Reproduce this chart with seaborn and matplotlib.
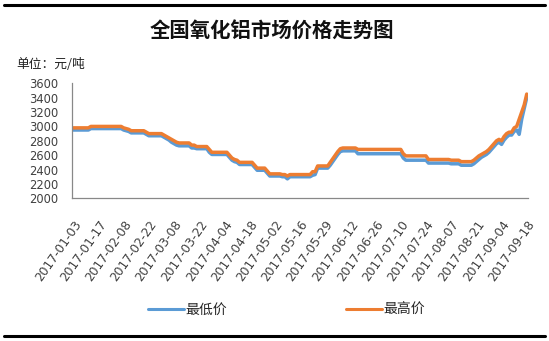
import matplotlib
matplotlib.use("Agg")
import matplotlib.pyplot as plt
import seaborn as sns
import pandas as pd
from matplotlib.lines import Line2D

# ---- data (yuan/ton, one value per trading day) ----
high_price = [
    2980, 2980, 2980, 2980, 2980, 2980, 2980,
    3000, 3000, 3000, 3000, 3000, 3000, 3000, 3000, 3000, 3000, 3000, 3000, 3000,
    2980, 2970, 2960,
    2940, 2940, 2940, 2940, 2940, 2940,
    2920,
    2900, 2900, 2900, 2900, 2900, 2900,
    2880, 2860, 2840,
    2820, 2800, 2780, 2770,
    2770, 2770, 2770, 2770,
    2740, 2740,
    2720, 2720, 2720, 2720, 2720,
    2680,
    2640, 2640, 2640, 2640, 2640, 2640, 2640,
    2600, 2560, 2540, 2530,
    2500, 2500, 2500, 2500, 2500, 2500,
    2460,
    2420, 2420, 2420, 2420,
    2380,
    2340, 2340, 2340, 2340, 2340,
    2330, 2330, 2310, 2330, 2330, 2330, 2330, 2330, 2330, 2330, 2330, 2330,
    2370, 2370,
    2450, 2450, 2450, 2450, 2450,
    2500, 2550, 2600, 2650, 2690,
    2700, 2700, 2700, 2700, 2700, 2700,
    2680, 2680, 2680, 2680, 2680, 2680, 2680, 2680, 2680,
    2680, 2680, 2680, 2680, 2680, 2680, 2680, 2680, 2680,
    2620, 2590,
    2590, 2590, 2590, 2590, 2590, 2590, 2590, 2590,
    2540, 2540, 2540, 2540, 2540, 2540, 2540, 2540, 2540,
    2530, 2530, 2530, 2530,
    2510, 2510, 2510, 2510, 2510,
    2530, 2560, 2590, 2610, 2630, 2650, 2680,
    2720, 2760, 2800, 2820,
    2800, 2860, 2900, 2920,
    2920, 2980, 3000,
    3100, 3200, 3300, 3450,
]

low_price = [
    2950, 2950, 2950, 2950, 2950, 2950, 2950,
    2970, 2970, 2970, 2970, 2970, 2970, 2970, 2970, 2970, 2970, 2970, 2970, 2970,
    2950, 2940, 2930,
    2910, 2910, 2910, 2910, 2910, 2910,
    2890,
    2870, 2870, 2870, 2870, 2870, 2870,
    2850, 2830, 2810,
    2780, 2760, 2740, 2730,
    2730, 2730, 2730, 2730,
    2700, 2700,
    2690, 2690, 2690, 2690, 2690,
    2640,
    2610, 2610, 2610, 2610, 2610, 2610, 2610,
    2570, 2530, 2510, 2500,
    2470, 2470, 2470, 2470, 2470, 2470,
    2430,
    2390, 2390, 2390, 2390,
    2350,
    2310, 2310, 2310, 2310, 2310,
    2300, 2300, 2270, 2300, 2300, 2300, 2300, 2300, 2300, 2300, 2300, 2300,
    2320, 2330,
    2420, 2420, 2420, 2420, 2420,
    2460, 2510, 2560, 2610, 2650,
    2660, 2660, 2660, 2660, 2660, 2660,
    2620, 2620, 2620, 2620, 2620, 2620, 2620, 2620, 2620,
    2620, 2620, 2620, 2620, 2620, 2620, 2620, 2620, 2620,
    2560, 2530,
    2530, 2530, 2530, 2530, 2530, 2530, 2530, 2530,
    2490, 2490, 2490, 2490, 2490, 2490, 2490, 2490, 2490,
    2480, 2480, 2480, 2480,
    2460, 2460, 2460, 2460, 2460,
    2480, 2510, 2540, 2570, 2590, 2610, 2640,
    2680, 2720, 2760, 2780,
    2750, 2810, 2850, 2880,
    2880, 2930, 2950,
    2890, 3100, 3250, 3400,
]

tick_labels = [
    "2017-01-03", "2017-01-17", "2017-02-08", "2017-02-22", "2017-03-08",
    "2017-03-22", "2017-04-04", "2017-04-18", "2017-05-02", "2017-05-16",
    "2017-05-29", "2017-06-12", "2017-06-26", "2017-07-10", "2017-07-24",
    "2017-08-07", "2017-08-21", "2017-09-04", "2017-09-18",
]
tick_step = 10  # one label every 10 trading days
series_names = ["最低价", "最高价"]
y_ticks = [2000, 2200, 2400, 2600, 2800, 3000, 3200, 3400, 3600]

# ---- build table ----
n = len(high_price)
days = list(range(n))
df = pd.DataFrame({
    "day": days + days,
    "price": low_price + high_price,
    "series": [series_names[0]] * n + [series_names[1]] * n,
})

sns.set_theme(style="white")
plt.rcParams["font.family"] = ["Noto Sans CJK SC", "DejaVu Sans"]

colors = {series_names[0]: "#5B9BD5", series_names[1]: "#ED7D31"}

fig = plt.figure(figsize=(5.49, 3.41), dpi=100)
ax = fig.add_axes([72 / 549, 1 - 198.3 / 341, (528 - 72) / 549, (198.3 - 83.3) / 341])

sns.lineplot(data=df, x="day", y="price", hue="series", palette=colors,
             linewidth=2.5, ax=ax, legend=False)

ax.set_xlim(-0.5, n - 0.5)
ax.set_ylim(2000, 3600)
ax.set_yticks(y_ticks)
ax.set_yticklabels([str(v) for v in y_ticks], fontsize=8.3, color="#404040",
                   family="DejaVu Sans")
ax.set_xticks([i * tick_step for i in range(len(tick_labels))])
ax.set_xticklabels(tick_labels, rotation=55, ha="right", va="top",
                   rotation_mode="anchor", fontsize=8.8, color="#404040",
                   family="DejaVu Sans")
ax.tick_params(axis="both", length=0)
ax.tick_params(axis="y", pad=10)
ax.tick_params(axis="x", pad=14)
ax.set_xlabel("")
ax.set_ylabel("")
ax.grid(False)
for side in ["top", "right"]:
    ax.spines[side].set_visible(False)
for side in ["left", "bottom"]:
    ax.spines[side].set_color("#888888")
    ax.spines[side].set_linewidth(0.9)

# title and unit
fig.text(272 / 549, 1 - 31 / 341, "全国氧化铝市场价格走势图", ha="center", va="center",
         fontsize=14.7, fontweight="bold", color="#111111")
fig.text(16 / 549, 1 - 65 / 341, "单位：元/吨", ha="left", va="center",
         fontsize=9.2, color="#222222")

# legend
handles = [Line2D([0], [0], color=colors[s], lw=2.2) for s in series_names]
fig.legend(handles, series_names, loc="center", bbox_to_anchor=(0.522, 1 - 310 / 341),
           ncol=2, frameon=False, fontsize=10, columnspacing=8.6, handlelength=2.6,
           handletextpad=0.1)

# black rules top and bottom
fig.add_artist(Line2D([4 / 549, 545 / 549], [1 - 5 / 341, 1 - 5 / 341],
                      color="black", lw=2.2, transform=fig.transFigure))
fig.add_artist(Line2D([4 / 549, 545 / 549], [1 - 336 / 341, 1 - 336 / 341],
                      color="black", lw=2.2, transform=fig.transFigure))

fig.savefig("out.png", dpi=100)
